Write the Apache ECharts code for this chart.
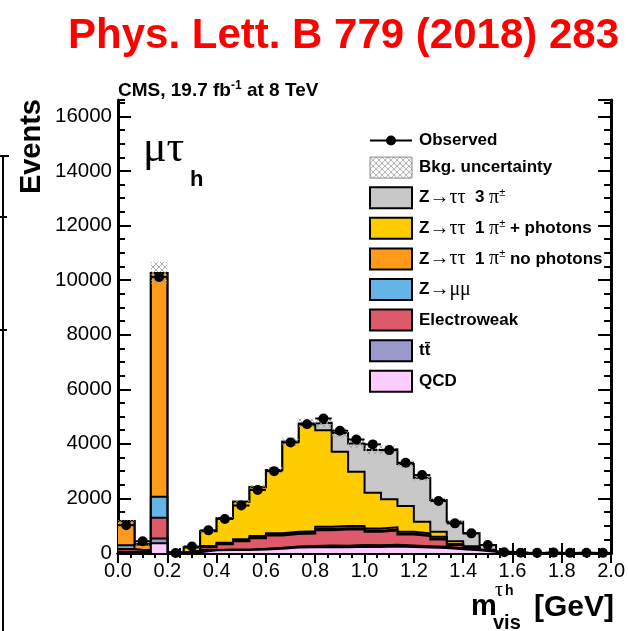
<!DOCTYPE html>
<html><head><meta charset="utf-8">
<script src="https://cdn.jsdelivr.net/npm/echarts@6/dist/echarts.min.js"></script>
<style>html,body{margin:0;padding:0;background:#fff}#c{width:628px;height:631px}</style>
</head><body><div id="c"></div>
<script>
// ---- data (30 bins of width 1/15 GeV between 0 and 2 GeV) ----
const binEdges = Array.from({length: 31}, (_, i) => i / 15);
const qcd      = [40, 30, 355, 5, 30, 100, 110, 110, 130, 160, 200, 210, 220, 210, 230, 220, 240, 220, 200, 180, 140, 100, 50, 10, 0, 0, 0, 0, 0, 0];
const ttbar    = [10, 10, 180, 0, 5, 10, 15, 20, 25, 30, 40, 45, 55, 60, 60, 60, 60, 55, 50, 45, 35, 25, 15, 5, 0, 0, 0, 0, 0, 0];
const ewk      = [100, 40, 755, 5, 20, 100, 200, 300, 390, 450, 455, 460, 560, 590, 570, 500, 520, 400, 375, 270, 120, 60, 30, 5, 0, 0, 0, 0, 0, 0];
const zmumu    = [130, 30, 770, 0, 5, 20, 20, 25, 25, 30, 35, 35, 45, 45, 45, 40, 40, 35, 30, 30, 15, 10, 5, 0, 0, 0, 0, 0, 0, 0];
const zttOneProngNoPhotons = [890, 200, 8200, 0, 20, 30, 35, 45, 50, 50, 50, 50, 80, 85, 85, 80, 80, 70, 65, 75, 20, 5, 0, 0, 0, 0, 0, 0, 0, 0];
const zttOneProngPhotons   = [0, 0, 0, 0, 120, 540, 890, 1380, 1785, 2320, 3295, 3900, 3540, 2720, 1987, 1308, 1026, 941, 427, 181, 100, 50, 20, 0, 0, 0, 0, 0, 0, 0];
const zttThreeProng        = [0, 0, 0, 0, 0, 0, 0, 0, 0, 0, 0, 48, 270, 690, 1040, 1563, 1831, 1538, 1610, 1159, 717, 470, 173, 30, 0, 0, 0, 0, 0, 0];
const observed = [1020, 430, 10117, 0, 240, 830, 1245, 1740, 2310, 3000, 4050, 4720, 4930, 4480, 4160, 3980, 3771, 3306, 2856, 1904, 1086, 720, 293, 30, 10, 5, 15, 5, 10, 5];
const bkgUnc   = [45, 15, 400, 2, 10, 35, 50, 70, 90, 120, 160, 180, 180, 170, 160, 150, 150, 130, 110, 80, 50, 30, 15, 5, 0, 0, 0, 0, 0, 0];
const xTickInterval = 0.2;
const yTickInterval = 2000;

// stack order from bottom to top
const layers = [
  {name: 'QCD', data: qcd, color: '#ffccff'},
  {name: 'ttbar', data: ttbar, color: '#9999cc'},
  {name: 'Electroweak', data: ewk, color: '#de5a6a'},
  {name: 'Zmumu', data: zmumu, color: '#64b4e8'},
  {name: 'Z1noph', data: zttOneProngNoPhotons, color: '#ff9a1a'},
  {name: 'Z1ph', data: zttOneProngPhotons, color: '#ffcc00'},
  {name: 'Z3', data: zttThreeProng, color: '#c8c8c8'}
];
const legendRich = {
  Observed: '{b|Observed}',
  'Bkg. uncertainty': '{b|Bkg. uncertainty}',
  Z3: '{b|Z}{g|→ττ}{b|  3 }{g|π}{sup|±}',
  Z1ph: '{b|Z}{g|→ττ}{b|  1 }{g|π}{sup|±}{b| + photons}',
  Z1noph: '{b|Z}{g|→ττ}{b|  1 }{g|π}{sup|±}{b| no photons}',
  Zmumu: '{b|Z}{g|→μμ}',
  Electroweak: '{b|Electroweak}',
  ttbar: '{b|tt\u0304}',
  QCD: '{b|QCD}'
};

function stepData(vals) {
  const d = vals.map((v, i) => [binEdges[i], v]);
  d.push([binEdges[vals.length], vals[vals.length - 1]]);
  return d;
}
// cumulative histograms (as ROOT's THStack draws them)
const cumulative = [];
layers.forEach((l, k) => {
  cumulative.push(l.data.map((v, i) => v + (k > 0 ? cumulative[k - 1][i] : 0)));
});
const totals = cumulative[cumulative.length - 1];

function hatch() {
  const c = document.createElement('canvas');
  c.width = 6; c.height = 6;
  const g = c.getContext('2d');
  g.strokeStyle = '#9a9a9a'; g.lineWidth = 0.8;
  g.beginPath(); g.moveTo(0, 0); g.lineTo(6, 6); g.moveTo(6, 0); g.lineTo(0, 6); g.stroke();
  return c;
}
const hatchFill = {image: hatch(), repeat: 'repeat'};

const FONT = '"Liberation Sans", Arial, sans-serif';
const SERIF = '"Liberation Serif", "DejaVu Serif", serif';
const chart = echarts.init(document.getElementById('c'), null, {renderer: 'canvas'});

const axisLine = {show: true, lineStyle: {color: '#000', width: 3}};
function xAx(pos, labels) {
  return {type: 'value', position: pos, min: 0, max: 2, interval: xTickInterval,
    axisLine, splitLine: {show: false},
    axisTick: {inside: true, length: 10, lineStyle: {color: '#000', width: 2}},
    minorTick: {show: true, splitNumber: 4, length: 5, lineStyle: {color: '#000', width: 2}},
    axisLabel: {show: labels, fontSize: 20, fontFamily: FONT, color: '#000', margin: 8,
      formatter: v => v.toFixed(1)}};
}
function yAx(pos, interval, len, labels, line) {
  return {type: 'value', position: pos, min: 0, max: 16600, interval,
    axisLine: line ? axisLine : {show: false}, splitLine: {show: false},
    axisTick: {inside: true, length: len, lineStyle: {color: '#000', width: 2}},
    axisLabel: {show: labels, fontSize: 20.5, fontFamily: FONT, color: '#000', margin: 6,
      showMaxLabel: false, formatter: v => (v % yTickInterval === 0 ? String(v) : '')}};
}

const series = layers.map((l, k) => ({
  type: 'line', name: l.name, step: 'end', symbol: 'none',
  data: stepData(cumulative[k]), z: 20 - k,
  lineStyle: {color: '#000', width: 2, join: 'miter'},
  areaStyle: {color: l.color, opacity: 1, origin: 'start'},
  itemStyle: {color: l.color},
  emphasis: {disabled: true}
}));
series.push({
  type: 'custom', name: 'Bkg. uncertainty', z: 25,
  itemStyle: {color: hatchFill},
  encode: {x: [0, 1], y: [2, 3]},
  data: bkgUnc.map((u, i) => [binEdges[i], binEdges[i + 1], totals[i] - u, totals[i] + u]),
  renderItem: (p, api) => {
    const a = api.coord([api.value(0), api.value(3)]);
    const b = api.coord([api.value(1), api.value(2)]);
    return {type: 'rect', shape: {x: a[0], y: a[1], width: b[0] - a[0], height: b[1] - a[1]},
      style: {fill: hatchFill}};
  }
});
series.push({
  type: 'custom', name: 'Observed', z: 30,
  itemStyle: {color: '#000'},
  encode: {x: [0, 1, 2], y: 3},
  data: observed.map((v, i) => [binEdges[i], binEdges[i + 1], (binEdges[i] + binEdges[i + 1]) / 2, v]),
  renderItem: (p, api) => {
    const a = api.coord([api.value(0), api.value(3)]);
    const b = api.coord([api.value(1), api.value(3)]);
    const c = api.coord([api.value(2), api.value(3)]);
    return {type: 'group', children: [
      {type: 'line', shape: {x1: a[0], y1: a[1], x2: b[0], y2: b[1]}, style: {stroke: '#000', lineWidth: 2}},
      {type: 'circle', shape: {cx: c[0], cy: c[1], r: 5}, style: {fill: '#000'}}
    ]};
  }
});

const legendData = [
  {name: 'Observed', icon: 'path://M0,9.5L42,9.5L42,11.5L0,11.5Z M26,10.5A5,5 0 1,1 16,10.5A5,5 0 1,1 26,10.5Z', itemStyle: {color: '#000', borderWidth: 0}},
  {name: 'Bkg. uncertainty', icon: 'rect', itemStyle: {color: hatchFill, borderColor: '#888', borderWidth: 1}}
].concat(layers.slice().reverse().map(l => ({name: l.name, icon: 'rect', itemStyle: {color: l.color, borderColor: '#000', borderWidth: 2}})));

chart.setOption({
  animation: false,
  backgroundColor: '#fff',
  grid: {left: 118, right: 14, top: 100, bottom: 78, containLabel: false},
  xAxis: [xAx('bottom', true), xAx('top', false)],
  yAxis: [yAx('left', yTickInterval, 13, true, true), yAx('left', 500, 7, false, false),
          yAx('right', yTickInterval, 13, false, true), yAx('right', 500, 7, false, false)],
  legend: {
    orient: 'vertical', left: 369, top: 132, padding: 0, itemWidth: 42, itemHeight: 21, itemGap: 7.6,
    selectedMode: false, data: legendData,
    formatter: name => legendRich[name],
    textStyle: {color: '#000', padding: [0, 0, 0, 2], rich: {
      b: {fontFamily: FONT, fontWeight: 'bold', fontSize: 17, color: '#000', lineHeight: 20},
      g: {fontFamily: SERIF, fontSize: 20, color: '#000', lineHeight: 20},
      sup: {fontFamily: FONT, fontSize: 11, color: '#000', lineHeight: 12, verticalAlign: 'top'}
    }}
  },
  series,
  graphic: [
    {type: 'text', x: 619, y: 36, style: {text: 'Phys. Lett. B 779 (2018) 283', fill: '#ff0000',
      font: 'bold 42px ' + FONT, align: 'right', verticalAlign: 'middle'}},
    {type: 'text', x: 118, y: 91, style: {text: '{b|CMS, 19.7 fb}{s|-1}{b| at 8 TeV}', verticalAlign: 'middle',
      rich: {b: {fontFamily: FONT, fontWeight: 'bold', fontSize: 19, fill: '#000', lineHeight: 22},
             s: {fontFamily: FONT, fontWeight: 'bold', fontSize: 12, fill: '#000', lineHeight: 13, verticalAlign: 'top'}}}},
    {type: 'text', x: 31.5, y: 99, rotation: Math.PI / 2, style: {text: 'Events', fill: '#000',
      font: 'bold 29px ' + FONT, align: 'right', verticalAlign: 'middle'}},
    {type: 'text', x: 143, y: 149, style: {text: 'μτ', fill: '#000', font: '44px ' + SERIF, verticalAlign: 'middle'}},
    {type: 'text', x: 190, y: 180, style: {text: 'h', fill: '#000', font: 'bold 22px ' + FONT, verticalAlign: 'middle'}},
    {type: 'text', x: 471, y: 607.3, style: {text: 'm', fill: '#000', font: 'bold 29px ' + FONT, verticalAlign: 'middle'}},
    {type: 'text', x: 493, y: 623, style: {text: 'vis', fill: '#000', font: 'bold 20px ' + FONT, verticalAlign: 'middle'}},
    {type: 'text', x: 495, y: 591.2, style: {text: 'τ', fill: '#000', font: '20px ' + SERIF, verticalAlign: 'middle'}},
    {type: 'text', x: 505, y: 591, style: {text: 'h', fill: '#000', font: 'bold 14px ' + FONT, verticalAlign: 'middle'}},
    {type: 'text', x: 534, y: 607.3, style: {text: '[GeV]', fill: '#000', font: 'bold 30px ' + FONT, verticalAlign: 'middle'}},
    {type: 'line', shape: {x1: 3, y1: 156, x2: 3, y2: 631}, style: {stroke: '#000', lineWidth: 2}},
    {type: 'line', shape: {x1: 0, y1: 156, x2: 9, y2: 156}, style: {stroke: '#000', lineWidth: 2}},
    {type: 'line', shape: {x1: 0, y1: 217, x2: 7, y2: 217}, style: {stroke: '#000', lineWidth: 2}},
    {type: 'line', shape: {x1: 0, y1: 330, x2: 7, y2: 330}, style: {stroke: '#000', lineWidth: 2}}
  ]
});
</script></body></html>
